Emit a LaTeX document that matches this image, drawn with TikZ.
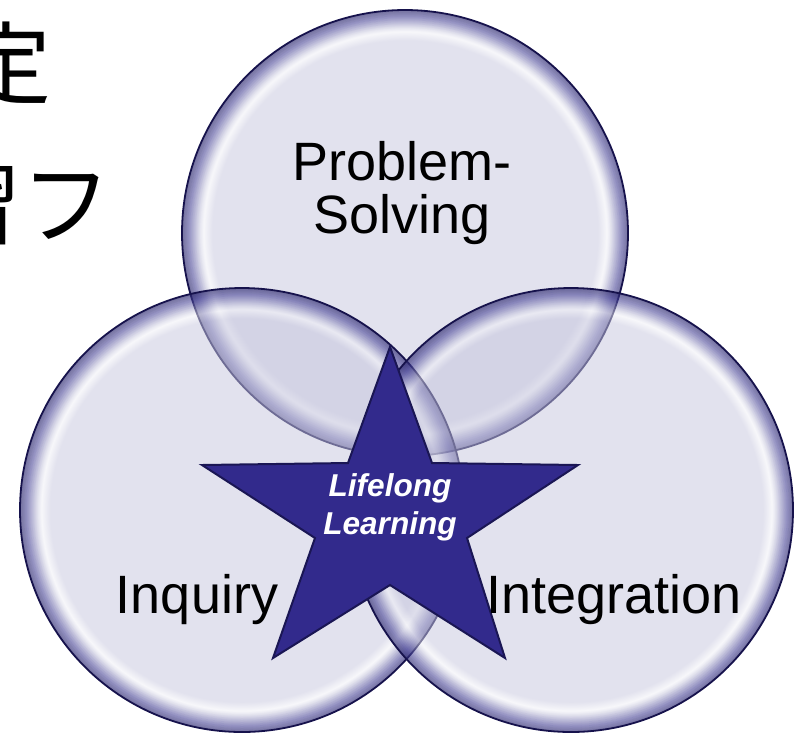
\documentclass[tikz,border=0pt]{standalone}
\usepackage{fontspec}
\setmainfont{Liberation Sans}
\newfontfamily\jpfont{Noto Sans CJK JP}

\definecolor{bubfill}{RGB}{198,198,222}
\definecolor{bubglow}{RGB}{70,66,150}
\definecolor{bubedge}{RGB}{22,18,76}
\definecolor{starfill}{RGB}{50,42,140}
\definecolor{staredge}{RGB}{26,22,84}

% rim of a bubble: lavender inside, white gloss, navy glow at the edge
\pgfdeclareradialshading{bubble}{\pgfpoint{0bp}{0bp}}{%
  color(0bp)=(bubfill); color(21.6bp)=(bubfill);
  color(22.6bp)=(white!75!bubfill); color(23.1bp)=(bubfill);
  color(24.3bp)=(bubglow); color(25bp)=(bubedge); color(50bp)=(bubedge)}

\begin{document}
\begin{tikzpicture}[x=0.5pt, y=-0.5pt,
    bubble/.style = {shading=bubble, fill opacity=0.5},
    glow/.style   = {draw=bubglow, line width=1pt, draw opacity=#1},
    rim/.style    = {draw=bubedge, line width=0.9pt},
    topic/.style  = {font=\fontsize{27}{26.5}\selectfont, align=center,
                     inner sep=0pt, text=black},
    core/.style   = {font=\fontsize{15.8}{19}\selectfont\bfseries\itshape,
                     align=center, inner sep=0pt, text=white},
    jp/.style     = {font=\jpfont\fontsize{45}{45}\selectfont,
                     anchor=east, inner sep=0pt}
                            ]
    \clip (0,0) rectangle (798,736);
    \fill[white] (0,0) rectangle (798,736);

    % cut-off title lines on the left
    \node (jp1) [jp] at (52,64)  {定};
    \node (jp2) [jp] at (112,206) {習フ};

    % the three bubbles
    \coordinate (ps) at (405,233);
    \coordinate (iq) at (242,510);
    \coordinate (ig) at (571,510);
    \foreach \c/\r in {ps/223, iq/222, ig/222}{
        \shade[bubble] (\c) circle[radius=\r];
        \foreach \k [evaluate=\k as \o using {0.3*(1-\k/19)^1.5}]
                 in {1,3,...,17}
            \draw[glow=\o] (\c) circle[radius=\r-\k];
        \draw[rim] (\c) circle[radius=\r];
    }

    % the star
    \coordinate (st) at (390,500);
    \filldraw[fill=starfill, draw=staredge, line width=1pt, line join=miter]
        (390,347) -- (432,463) -- (578,465) -- (467,538) -- (505,658)
        -- (390,585) -- (273,658) -- (315,538) -- (202,465) -- (348,463)
        -- cycle;

    \node (ps-t) [topic, anchor=base] at (402,233) {Problem-\\Solving};
    \node (iq-t) [topic, anchor=base] at (197,613) {Inquiry};
    \node (ig-t) [topic, anchor=base] at (614,613) {Integration};
    \node (ll-t) [core,  anchor=base] at (390,534) {Lifelong\\Learning};
\end{tikzpicture}
\end{document}
